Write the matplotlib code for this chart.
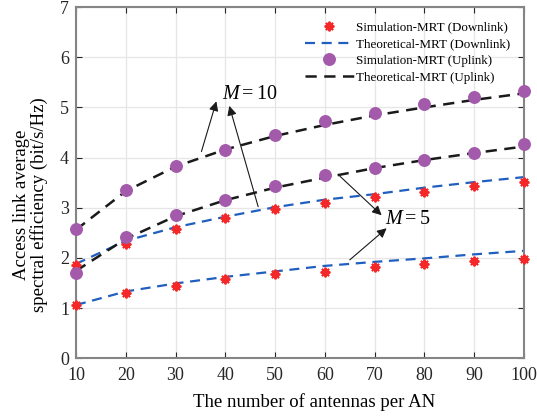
import matplotlib
matplotlib.use("Agg")
import matplotlib.pyplot as plt

# antennas per AN
antennas = [10, 20, 30, 40, 50, 60, 70, 80, 90, 100]

# downlink, simulated / theoretical
sim_dl_m5 = [1.06, 1.30, 1.44, 1.57, 1.68, 1.72, 1.81, 1.88, 1.94, 1.98]
sim_dl_m10 = [1.86, 2.28, 2.57, 2.79, 2.97, 3.09, 3.22, 3.32, 3.43, 3.51]
th_dl_m5 = [1.06, 1.33, 1.49, 1.62, 1.73, 1.84, 1.92, 1.99, 2.07, 2.14]
th_dl_m10 = [1.88, 2.34, 2.61, 2.82, 3.01, 3.16, 3.27, 3.40, 3.51, 3.61]

# uplink, simulated / theoretical
sim_ul_m5 = [1.69, 2.42, 2.85, 3.16, 3.43, 3.65, 3.80, 3.95, 4.10, 4.28]
sim_ul_m10 = [2.58, 3.35, 3.83, 4.15, 4.44, 4.72, 4.88, 5.06, 5.20, 5.32]
th_ul_m5 = [1.74, 2.38, 2.83, 3.15, 3.40, 3.60, 3.79, 3.95, 4.09, 4.22]
th_ul_m10 = [2.56, 3.33, 3.82, 4.16, 4.43, 4.65, 4.84, 5.00, 5.15, 5.28]

plt.rcParams["font.family"] = ["Liberation Serif", "DejaVu Serif"]
plt.rcParams["mathtext.fontset"] = "custom"
plt.rcParams["mathtext.it"] = "Liberation Serif:italic"
plt.rcParams["mathtext.rm"] = "Liberation Serif"

red = "#f42828"
purple = "#a35aab"
blue = "#1f5fbf"
dark = "#1a1a1a"

fig = plt.figure(figsize=(5.37, 4.16), dpi=100)
ax = fig.add_axes([0.1415, 0.139, 0.8343, 0.844])

star = dict(marker=(8, 2, 0), ls="none", color=red, markersize=7, markeredgewidth=1.4,
            clip_on=False)
dot = dict(marker="o", ls="none", color=purple, markersize=8.3, clip_on=False)
bdash = dict(ls=(0, (4.5, 3)), color=blue, lw=1.6)
kdash = dict(ls=(0, (4.5, 3)), color=dark, lw=1.8)

ax.plot(antennas, th_dl_m5, **bdash, zorder=2)
ax.plot(antennas, th_dl_m10, **bdash, zorder=2)
ax.plot(antennas, th_ul_m5, **kdash, zorder=2)
ax.plot(antennas, th_ul_m10, **kdash, zorder=2)
h1, = ax.plot(antennas, sim_dl_m5, **star, zorder=3, label="Simulation-MRT (Downlink)")
ax.plot(antennas, sim_dl_m10, **star, zorder=3)
h3, = ax.plot(antennas, sim_ul_m5, **dot, zorder=3, label="Simulation-MRT (Uplink)")
ax.plot(antennas, sim_ul_m10, **dot, zorder=3)
h2, = ax.plot([], [], **bdash, label="Theoretical-MRT (Downlink)")
h4, = ax.plot([], [], **kdash, label="Theoretical-MRT (Uplink)")

ax.set_xlim(10, 100)
ax.set_ylim(0, 7)
ax.set_xticks(antennas)
ax.set_yticks(range(0, 8))
ax.grid(True, color="#e6e6e6", lw=0.9)
ax.set_axisbelow(True)
ax.tick_params(direction="in", top=True, right=True, labelsize=13, colors="#262626",
               length=4, width=0.8)
ax.tick_params(axis="x", pad=6)
ax.tick_params(axis="y", pad=5)
for sp in ax.spines.values():
    sp.set_color("#858585")
    sp.set_linewidth(1.5)

ax.set_xlabel("The number of antennas per AN", fontsize=13.5)
ax.xaxis.set_label_coords(0.531, -0.1)
ax.xaxis.label.set_va("top")
ax.set_ylabel("Access link average\nspectral efficiency (bit/s/Hz)", fontsize=13.5,
              linespacing=1.0)
ax.yaxis.set_label_coords(-0.062, 0.436)

leg = ax.legend(handles=[h1, h2, h3, h4], loc="upper right", frameon=False, fontsize=9.4,
                handlelength=3.7, handletextpad=0.2, labelspacing=0.35,
                borderaxespad=0.3, bbox_to_anchor=(0.99, 0.985))

arrow = dict(arrowstyle="-|>", color=dark, lw=0.8, mutation_scale=14, shrinkA=0, shrinkB=0)
ax.text(39.3, 5.25, "$M = 10$", fontsize=14.5, ha="left", va="center")
ax.annotate("", xy=(38.2, 5.12), xytext=(35.2, 4.12), arrowprops=arrow)
ax.annotate("", xy=(40.8, 5.03), xytext=(46.6, 3.02), arrowprops=arrow)

ax.text(72.0, 2.77, "$M = 5$", fontsize=14.5, ha="left", va="center")
ax.annotate("", xy=(71.4, 2.85), xytext=(63.0, 3.63), arrowprops=arrow)
ax.annotate("", xy=(72.4, 2.59), xytext=(65.0, 1.96), arrowprops=arrow)

fig.savefig("out.png", dpi=100)
